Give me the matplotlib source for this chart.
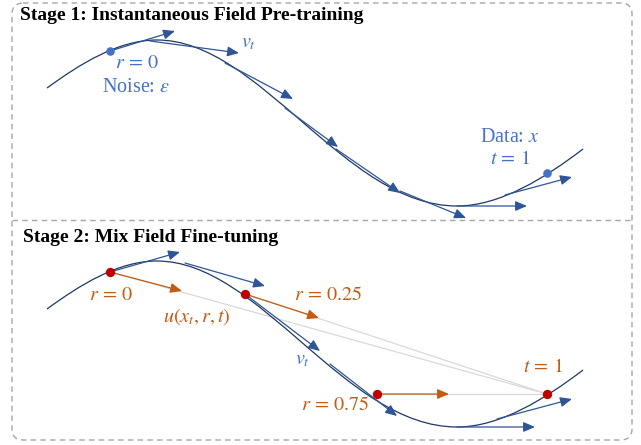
# Two-stage sketch: instantaneous field pre-training vs. mix field fine-tuning.
# Drawn in pixel coordinates of the 641x445 canvas (y grows downward).

import matplotlib as mpl
import matplotlib.pyplot as plt
from matplotlib.path import Path
from matplotlib.patches import PathPatch, FancyBboxPatch

# colors
CURVE_COLOR = '#1F3864'
ARROW_BLUE = '#2F5597'
LABEL_BLUE = '#4472C4'
ORANGE = '#C55A11'
RED = '#C00000'
GRAY_LINE = '#D9D9D9'
BORDER_COLOR = '#A6A6A6'

W, H = 641, 445
STAGE2_DY = 221  # vertical shift of the stage 2 drawing
LABEL_SIZE = 14.5
TITLE_SIZE = 14

mpl.rcParams['mathtext.fontset'] = 'stix'
mpl.rcParams['font.family'] = 'serif'
mpl.rcParams['font.serif'] = ['Liberation Serif', 'DejaVu Serif']

# trajectory, as cubic bezier nodes + handles (stage 1 coords)
curve_nodes = [(47, 88), (157, 40), (457, 206), (583, 149)]
curve_handles = [((80, 64), (118, 40)),
                 ((260, 40), (345, 206)),
                 ((500, 206), (545, 178))]

# stage 1: tangent field arrows (start, tip)
s1_arrows = [((110, 51), (175, 31)),
             ((150, 41), (239, 53)),
             ((225, 63), (293, 99)),
             ((285, 108), (338, 147)),
             ((336, 149), (400, 193)),
             ((400, 191), (466, 218)),
             ((457, 206), (527, 206)),
             ((505, 195), (572, 177))]
s1_dots = [(110, 51), (547, 173)]

# stage 2: blue tangent arrows, orange mix-field arrows, red dots
s2_arrows = [((110, 272), (180, 252)),
             ((185, 263), (265, 286)),
             ((245, 294), (320, 351)),
             ((330, 364), (397, 416)),
             ((457, 427), (535, 427)),
             ((497, 419), (572, 399))]
s2_dots = [(110, 272), (245, 294), (377, 394), (547, 394)]
s2_orange = [((110, 272), (182, 291)),
             ((245, 294), (319, 318)),
             ((377, 394), (449, 394))]

# labels: (x, y, text, color)
s1_labels = [(249, 43, r'$v_t$', LABEL_BLUE),
             (137, 63, r'$r\,=\,0$', LABEL_BLUE),
             (136, 87, r'Noise: $\epsilon$', LABEL_BLUE),
             (510, 137, r'Data: $x$', LABEL_BLUE),
             (510, 160, r'$t\,=\,1$', LABEL_BLUE)]
s2_labels = [(111, 295, r'$r\,=\,0$', ORANGE),
             (197, 317, r'$u(x_t,r,t)$', ORANGE),
             (328, 296, r'$r\,=\,0.25$', ORANGE),
             (303, 360, r'$v_t$', LABEL_BLUE),
             (335, 406, r'$r\,=\,0.75$', ORANGE),
             (543, 367, r'$t\,=\,1$', ORANGE)]

fig = plt.figure(figsize=(W / 100, H / 100), dpi=100)
ax = fig.add_axes([0, 0, 1, 1])
ax.set_xlim(0, W)
ax.set_ylim(H, 0)
ax.axis('off')


def draw_curve(dy):
    verts = [(curve_nodes[0][0], curve_nodes[0][1] + dy)]
    codes = [Path.MOVETO]
    for (h1, h2), node in zip(curve_handles, curve_nodes[1:]):
        for p in (h1, h2, node):
            verts.append((p[0], p[1] + dy))
            codes.append(Path.CURVE4)
    ax.add_patch(PathPatch(Path(verts, codes), fill=False,
                           edgecolor=CURVE_COLOR, lw=0.9, zorder=3))


def arrow(start, tip, color, lw=0.9):
    ax.annotate('', xy=tip, xytext=start,
                arrowprops=dict(arrowstyle='-|>,head_length=0.7,head_width=0.3',
                                color=color, lw=lw, shrinkA=0, shrinkB=0,
                                mutation_scale=10), zorder=4)


# outer dashed rounded box + divider
box = FancyBboxPatch((12, 3), 620, 437, boxstyle='round,pad=0,rounding_size=11',
                     fill=False, edgecolor=BORDER_COLOR, lw=1.0,
                     linestyle=(0, (4, 3)), zorder=1)
ax.add_patch(box)
ax.plot([12, 632], [220, 220], color=BORDER_COLOR, lw=1.0,
        linestyle=(0, (4, 3)), zorder=1)

# titles
ax.text(20, 15, 'Stage 1: Instantaneous Field Pre-training', fontsize=TITLE_SIZE,
        weight='bold', ha='left', va='center', color='black')
ax.text(23, 237, 'Stage 2: Mix Field Fine-tuning', fontsize=TITLE_SIZE,
        weight='bold', ha='left', va='center', color='black')

# stage 1
draw_curve(0)
for start, tip in s1_arrows:
    arrow(start, tip, ARROW_BLUE)
ax.scatter([p[0] for p in s1_dots], [p[1] for p in s1_dots], s=38,
           color=LABEL_BLUE, zorder=5, linewidths=0)
for x, y, txt, c in s1_labels:
    ax.text(x, y, txt, fontsize=LABEL_SIZE, color=c, ha='center', va='center')

# stage 2
draw_curve(STAGE2_DY)
end_pt = s2_dots[-1]
for p in s2_dots[:-1]:
    ax.plot([p[0], end_pt[0]], [p[1], end_pt[1]], color=GRAY_LINE, lw=0.9, zorder=2)
for start, tip in s2_arrows:
    arrow(start, tip, ARROW_BLUE)
for start, tip in s2_orange:
    arrow(start, tip, ORANGE)
ax.scatter([p[0] for p in s2_dots], [p[1] for p in s2_dots], s=45,
           color=RED, zorder=6, linewidths=0)
for x, y, txt, c in s2_labels:
    ax.text(x, y, txt, fontsize=LABEL_SIZE, color=c, ha='center', va='center')

fig.savefig('out.png', dpi=100)
